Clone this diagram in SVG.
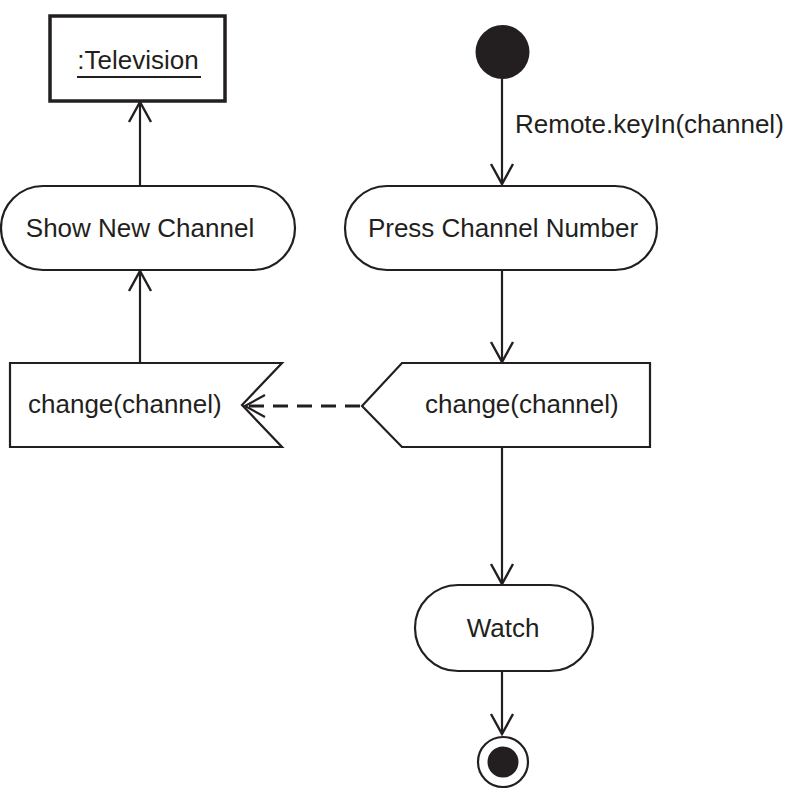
<svg xmlns="http://www.w3.org/2000/svg" width="799" height="800" viewBox="0 0 799 800">
<style>
  .shape { fill: #ffffff; stroke: #231f20; stroke-width: 2.2; }
  .edge { fill: none; stroke: #231f20; stroke-width: 2.2; }
  .dash { fill: none; stroke: #231f20; stroke-width: 3; stroke-dasharray: 15 9; }
  text { font-family: "Liberation Sans", Arial, Helvetica, sans-serif; font-size: 26px; fill: #231f20; }
  .c { text-anchor: middle; }
</style>
<defs>
  <marker id="open" markerUnits="userSpaceOnUse" markerWidth="30" markerHeight="30" viewBox="-24 -15 28 30" refX="0" refY="0" orient="auto">
    <path d="M -20 -11 L 0 0 L -20 11" fill="none" stroke="#231f20" stroke-width="2.4"/>
  </marker>
</defs>
<rect width="799" height="800" fill="#ffffff"/>

<g id="connectors">
  <line class="edge" x1="502" y1="79" x2="502" y2="184" marker-end="url(#open)"/>
  <text x="515" y="133">Remote.keyIn(channel)</text>
  <line class="edge" x1="502" y1="270" x2="502" y2="362" marker-end="url(#open)"/>
  <line class="edge" x1="502" y1="447" x2="502" y2="584" marker-end="url(#open)"/>
  <line class="edge" x1="502" y1="671" x2="502" y2="734" marker-end="url(#open)"/>
  <line class="dash" x1="360" y1="406" x2="247" y2="406"/>
  <path class="edge" d="M 265 395 L 245 406 L 265 417"/>
  <line class="edge" x1="140" y1="362" x2="140" y2="271" marker-end="url(#open)"/>
  <line class="edge" x1="140" y1="185" x2="140" y2="102" marker-end="url(#open)"/>
</g>

<g id="television">
  <rect x="50" y="16" width="175" height="85" fill="#ffffff" stroke="#231f20" stroke-width="3.5"/>
  <text class="c" x="138" y="69">:Television</text>
  <line x1="77" y1="77" x2="201" y2="77" stroke="#231f20" stroke-width="1.8"/>
</g>

<g id="show-new-channel">
  <rect class="shape" x="1" y="186" width="294" height="84" rx="42" ry="42"/>
  <text class="c" x="140" y="237">Show New Channel</text>
</g>

<g id="initial">
  <circle cx="502.5" cy="52" r="27" fill="#231f20"/>
</g>

<g id="press-channel-number">
  <rect class="shape" x="345" y="186" width="312" height="84" rx="42" ry="42"/>
  <text class="c" x="503" y="237">Press Channel Number</text>
</g>

<g id="receive-change">
  <polygon class="shape" points="10,363 282,363 242,405 282,447 10,447"/>
  <text x="28" y="413">change(channel)</text>
</g>

<g id="send-change">
  <polygon class="shape" points="362,406 402,363 650,363 650,447 402,447"/>
  <text x="425" y="413">change(channel)</text>
</g>

<g id="watch">
  <rect class="shape" x="415" y="585" width="178" height="86" rx="43" ry="43"/>
  <text class="c" x="503" y="637">Watch</text>
</g>

<g id="final">
  <circle cx="503" cy="762" r="25" fill="#ffffff" stroke="#231f20" stroke-width="2.2"/>
  <circle cx="503" cy="762" r="15.5" fill="#231f20"/>
</g>
</svg>
